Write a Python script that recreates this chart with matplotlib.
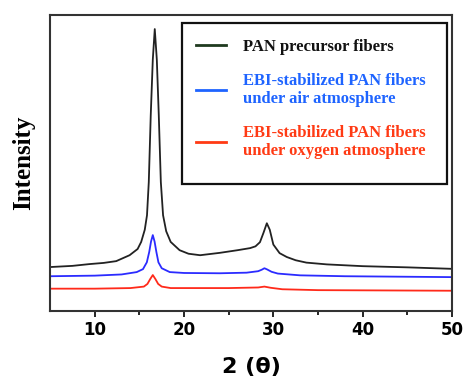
import numpy as np
import matplotlib as mpl
mpl.use("agg")
import matplotlib.pyplot as plt
from matplotlib.patches import Rectangle

# 2-theta positions and intensities (arbitrary units)
x_pan = [5, 7.5, 9.4, 11, 12.4, 13.9, 14.8, 15.2, 15.6, 15.85, 16.05, 16.27, 16.5, 16.72, 16.95,
         17.17, 17.4, 17.65, 18.0, 18.5, 19.5, 20.5, 21.8, 24, 26, 27.4, 28.0, 28.5, 28.9, 29.27,
         29.6, 30.0, 30.7, 31.5, 32.5, 33.7, 36, 40, 45, 50]
y_pan = [14.9, 15.3, 15.9, 16.3, 16.9, 18.9, 21.0, 23.4, 27.5, 32.4, 43.6, 66.2, 85, 95.3, 85,
         66.2, 43.6, 32.4, 27.0, 23.4, 20.6, 19.4, 18.9, 19.7, 20.6, 21.3, 21.9, 23.3, 26.5, 29.7,
         27.5, 22.5, 19.6, 18.3, 17.2, 16.4, 15.8, 15.2, 14.8, 14.3]

x_air = [5, 10, 13, 14.7, 15.4, 15.83, 16.1, 16.3, 16.5, 16.7, 16.9, 17.13, 17.5, 18.4, 20, 24,
         27, 28.3, 28.7, 29.0, 29.3, 29.8, 30.5, 33, 38, 50]
y_air = [11.8, 12.0, 12.4, 13.2, 14.2, 16.5, 20, 23.5, 25.7, 23.5, 20, 16.5, 14.5, 13.2, 12.9, 12.8,
         13.0, 13.5, 14.0, 14.5, 14.1, 13.3, 12.7, 12.1, 11.8, 11.5]

x_oxy = [5, 10, 14, 15.5, 15.9, 16.2, 16.5, 16.8, 17.1, 17.5, 18.5, 25, 28.3, 29, 29.7, 31, 35, 50]
y_oxy = [7.6, 7.6, 7.8, 8.3, 9.2, 10.8, 12.2, 10.8, 9.2, 8.3, 7.8, 7.8, 8.0, 8.3, 7.9, 7.4, 7.1, 6.9]

labels = ["PAN precursor fibers",
          "EBI-stabilized PAN fibers\nunder air atmosphere",
          "EBI-stabilized PAN fibers\nunder oxygen atmosphere"]

fig = plt.figure(figsize=(4.64, 3.79), dpi=100)
ax = fig.add_axes([0.108, 0.179, 0.866, 0.781])

ax.plot(x_pan, y_pan, color="#222222", lw=1.3, label=labels[0])
ax.plot(x_air, y_air, color="#2b2bff", lw=1.3, label=labels[1])
ax.plot(x_oxy, y_oxy, color="#ff2a1a", lw=1.3, label=labels[2])

ax.set_xlim(5, 50)
ax.set_ylim(0, 100)
ax.set_yticks([])
ax.set_xticks([10, 20, 30, 40, 50])
ax.set_xticks([15, 25, 35, 45], minor=True)
ax.tick_params(axis="x", which="major", direction="out", length=4, width=1.2, labelsize=12, pad=3)
ax.tick_params(axis="x", which="minor", direction="out", length=3, width=1.2)
for lbl in ax.get_xticklabels():
    lbl.set_fontweight("bold")
for s in ax.spines.values():
    s.set_linewidth(1.5)
    s.set_color("#333333")

ax.set_xlabel("2 (θ)", fontsize=16, fontweight="bold", labelpad=13)
ax.set_ylabel("Intensity", fontsize=18, fontweight="bold", family="Liberation Serif", labelpad=11)

leg = ax.legend(loc="upper right", bbox_to_anchor=(0.975, 0.975), frameon=False,
                prop={"family": "Liberation Serif", "weight": "bold", "size": 12},
                labelcolor=["#111111", "#1e64ff", "#ff3a14"], handlelength=1.8,
                borderpad=1.0, labelspacing=1.05, handletextpad=1.0, borderaxespad=0)
for h, c in zip(leg.get_lines(), ["#1f3a1f", "#1e64ff", "#ff3a14"]):
    h.set_color(c)
    h.set_linewidth(2)

# legend frame drawn separately (more room at the bottom than at the top)
ax.add_patch(Rectangle((0.328, 0.429), 0.66, 0.544, transform=ax.transAxes, fill=False,
                       edgecolor="#111111", lw=1.6, zorder=5))

fig.savefig("out.png", dpi=100)
